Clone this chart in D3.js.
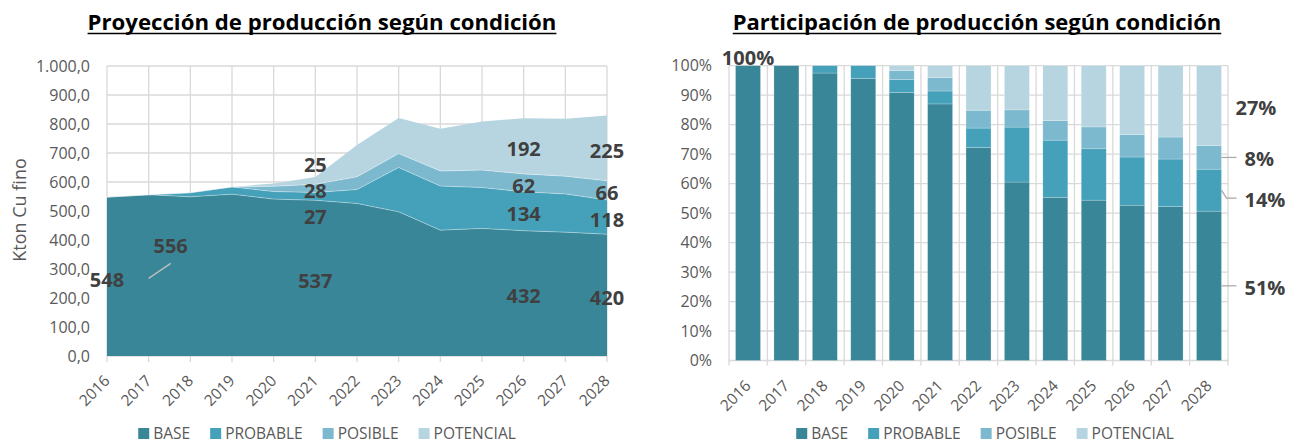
<!DOCTYPE html>
<html>
<head>
<meta charset="utf-8">
<script src="https://cdn.jsdelivr.net/npm/d3@7"></script>
<style>
  body { margin: 0; background: #fff; }
  svg { display: block; font-family: "Open Sans", sans-serif; }
</style>
</head>
<body>
<svg id="chart" width="1300" height="444"></svg>
<script>
// data (kton Cu fino)
const years = [2016, 2017, 2018, 2019, 2020, 2021, 2022, 2023, 2024, 2025, 2026, 2027, 2028];
const base = [548, 556, 549, 558, 541, 537, 526, 497, 434, 440, 432, 427, 420];
const probable = [0, 0, 14, 25, 26, 27, 48, 153, 152, 141, 134, 132, 118];
const posible = [0, 0, 0, 0, 18, 28, 44, 48, 52, 60, 62, 61, 66];
const potencial = [0, 0, 0, 0, 10, 25, 110, 123, 146, 168, 192, 198, 225];
const seriesNames = ["BASE", "PROBABLE", "POSIBLE", "POTENCIAL"];
const leftTicks = [0, 100, 200, 300, 400, 500, 600, 700, 800, 900, 1000];
const rightTicks = [0, .1, .2, .3, .4, .5, .6, .7, .8, .9, 1];

const colors = ["#3a8699", "#45a0b9", "#7cb9cf", "#b7d5e0"];
const gridColor = "#d9d9d9";
const textColor = "#595959";
const labelColor = "#404040";

const keys = ["base", "probable", "posible", "potencial"];
const rows = years.map((y, i) => ({year: y, base: base[i], probable: probable[i], posible: posible[i], potencial: potencial[i]}));

const es = d3.formatLocale({decimal: ",", thousands: ".", grouping: [3], currency: ["", ""]});
const fmtKt = es.format(",.1f");
const fmtPct = d3.format(".0%");

const svg = d3.select("#chart");

function title(cx, width, text) {
  const t = svg.append("text")
    .attr("x", cx).attr("y", 30)
    .attr("text-anchor", "middle")
    .attr("font-weight", "bold")
    .attr("font-size", 20)
    .attr("fill", "#000")
    .text(text);
  // fit to the reference width
  const w = t.node().getComputedTextLength();
  t.attr("font-size", 20 * width / w);
  const w2 = t.node().getComputedTextLength();
  svg.append("line")
    .attr("x1", cx - w2 / 2).attr("x2", cx + w2 / 2)
    .attr("y1", 33.5).attr("y2", 33.5)
    .attr("stroke", "#000").attr("stroke-width", 1.6);
}

function legend(cx, y) {
  const g = svg.append("g");
  let x = 0;
  seriesNames.forEach((name, i) => {
    g.append("rect").attr("x", x).attr("y", y - 5).attr("width", 11).attr("height", 11).attr("fill", colors[i]);
    const t = g.append("text").attr("x", x + 15).attr("y", y + 1).attr("dy", "0.35em")
      .attr("font-size", 15.5).attr("fill", textColor).text(name);
    x += 15 + t.node().getComputedTextLength() + 20;
  });
  const width = x - 20;
  g.attr("transform", "translate(" + (cx - width / 2) + ",0)");
}

// ---------- left: stacked area ----------
const xL = d3.scalePoint().domain(years).range([107, 607]);
const yL = d3.scaleLinear().domain([0, 1000]).range([356, 66]);
const stackL = d3.stack().keys(keys)(rows);

title(322, 469, "Proyección de producción según condición");

const gl = svg.append("g");
gl.selectAll(".hg").data(leftTicks).enter().append("line")
  .attr("x1", 107).attr("x2", 607)
  .attr("y1", d => yL(d)).attr("y2", d => yL(d))
  .attr("stroke", gridColor).attr("stroke-width", 1.3);
gl.selectAll(".vg").data(years).enter().append("line")
  .attr("x1", d => xL(d)).attr("x2", d => xL(d))
  .attr("y1", yL(1000)).attr("y2", yL(0) + 6)
  .attr("stroke", gridColor).attr("stroke-width", 1.3);

const area = d3.area().x(d => xL(d.data.year)).y0(d => yL(d[0])).y1(d => yL(d[1]));
const topLine = d3.line().x(d => xL(d.data.year)).y(d => yL(d[1]));
gl.selectAll(".layer").data(stackL).enter().append("path")
  .attr("d", area).attr("fill", (d, i) => colors[i]);
gl.selectAll(".edge").data(stackL.slice(0, 3)).enter().append("path")
  .attr("d", topLine).attr("fill", "none")
  .attr("stroke", "#fff").attr("stroke-opacity", 0.45).attr("stroke-width", 0.8);

gl.selectAll(".yl").data(leftTicks).enter().append("text")
  .attr("x", 90).attr("y", d => yL(d)).attr("dy", "0.35em")
  .attr("text-anchor", "end").attr("font-size", 16).attr("fill", textColor)
  .text(d => fmtKt(d));
gl.append("text")
  .attr("transform", "translate(26,210) rotate(-90)")
  .attr("text-anchor", "middle").attr("font-size", 18).attr("fill", textColor)
  .text("Kton Cu fino");
gl.selectAll(".xl").data(years).enter().append("text")
  .attr("transform", d => "translate(" + xL(d) + ",378) rotate(-45)")
  .attr("text-anchor", "end").attr("dy", "0.35em")
  .attr("font-size", 15.5).attr("fill", textColor).text(d => d);

// data labels: which years carry labels, and which layers
const labelYears = [2016, 2017, 2021, 2026, 2028];
labelYears.forEach(yr => {
  const i = years.indexOf(yr);
  const layers = stackL.filter(s => s[i][1] - s[i][0] > 0);
  const mids = layers.map(s => yL((s[i][0] + s[i][1]) / 2) + 3);
  // spread thin upper layers so their labels do not collide
  const upper = mids.slice(1);
  if (upper.length > 1 && d3.min(d3.pairs(upper), p => p[0] - p[1]) < 22) {
    const c = d3.mean(upper);
    const k = (upper.length - 1) / 2;
    upper.forEach((m, j) => { mids[j + 1] = c + (k - j) * 26; });
  }
  layers.forEach((s, j) => {
    let x = xL(yr), y = mids[j];
    if (yr === 2017) {
      // moved label with a leader line
      gl.append("line").attr("x1", x).attr("y1", y).attr("x2", x + 22).attr("y2", y - 15)
        .attr("stroke", "#bfbfbf").attr("stroke-width", 1.3);
      x += 22; y -= 32;
    }
    gl.append("text").attr("x", x).attr("y", y).attr("dy", "0.35em")
      .attr("text-anchor", "middle").attr("font-size", 20).attr("font-weight", "bold")
      .attr("fill", labelColor).text(s[i].data[s.key]);
  });
});

legend(327, 433);

// ---------- right: 100% stacked bars ----------
const xR = d3.scaleBand().domain(years).range([729, 1228]).paddingInner(0.35).paddingOuter(0.17);
const yR = d3.scaleLinear().domain([0, 1]).range([360.5, 65.7]);
const stackR = d3.stack().keys(keys).offset(d3.stackOffsetExpand)(rows);
const stepR = (1228 - 729) / years.length;

title(977, 489, "Participación de producción según condición");

const gr = svg.append("g");
gr.selectAll(".hg").data(rightTicks).enter().append("line")
  .attr("x1", 729).attr("x2", 1228)
  .attr("y1", d => yR(d)).attr("y2", d => yR(d))
  .attr("stroke", gridColor).attr("stroke-width", 1.3);
gr.selectAll(".vg").data(d3.range(years.length + 1)).enter().append("line")
  .attr("x1", d => 729 + d * stepR).attr("x2", d => 729 + d * stepR)
  .attr("y1", yR(1)).attr("y2", yR(0) + 5)
  .attr("stroke", gridColor).attr("stroke-width", 1.3);

gr.selectAll(".layer").data(stackR).enter().append("g")
  .attr("fill", (d, i) => colors[i])
  .selectAll("rect").data(d => d).enter().append("rect")
  .attr("x", d => xR(d.data.year)).attr("width", xR.bandwidth())
  .attr("y", d => yR(d[1])).attr("height", d => yR(d[0]) - yR(d[1]))
  .attr("stroke", "#fff").attr("stroke-opacity", 0.35).attr("stroke-width", 0.6);

gr.selectAll(".yl").data(rightTicks).enter().append("text")
  .attr("x", 712).attr("y", d => yR(d)).attr("dy", "0.35em")
  .attr("text-anchor", "end").attr("font-size", 16).attr("fill", textColor)
  .text(d => fmtPct(d));
gr.selectAll(".xl").data(years).enter().append("text")
  .attr("transform", d => "translate(" + (xR(d) + xR.bandwidth() / 2) + ",383) rotate(-45)")
  .attr("text-anchor", "end").attr("dy", "0.35em")
  .attr("font-size", 15.5).attr("fill", textColor).text(d => d);

// "100%" on the first bar
const first = stackR[0][0];
gr.append("text").attr("x", xR(years[0]) + xR.bandwidth() / 2).attr("y", yR(first[1]) - 8)
  .attr("dy", "0.35em").attr("text-anchor", "middle")
  .attr("font-size", 20).attr("font-weight", "bold").attr("fill", labelColor)
  .text(fmtPct(first[1] - first[0]));

// shares of the last year, right of the bar
const last = years.length - 1;
const barRight = xR(years[last]) + xR.bandwidth();
stackR.forEach((s, j) => {
  const d = s[last];
  const mid = yR((d[0] + d[1]) / 2);
  const ty = j === 1 ? mid + 8 : mid;
  if (j < 3) {
    gr.append("path")
      .attr("d", "M" + barRight + "," + mid + " L" + (barRight + 5) + "," + ty + " L" + (barRight + 15) + "," + ty)
      .attr("fill", "none").attr("stroke", "#a6a6a6").attr("stroke-width", 1.2);
  }
  gr.append("text").attr("x", barRight + (j === 3 ? 14 : 23)).attr("y", ty + 2).attr("dy", "0.35em")
    .attr("font-size", 20).attr("font-weight", "bold").attr("fill", labelColor)
    .text(fmtPct(d[1] - d[0]));
});

legend(985, 433);
</script>
</body>
</html>
